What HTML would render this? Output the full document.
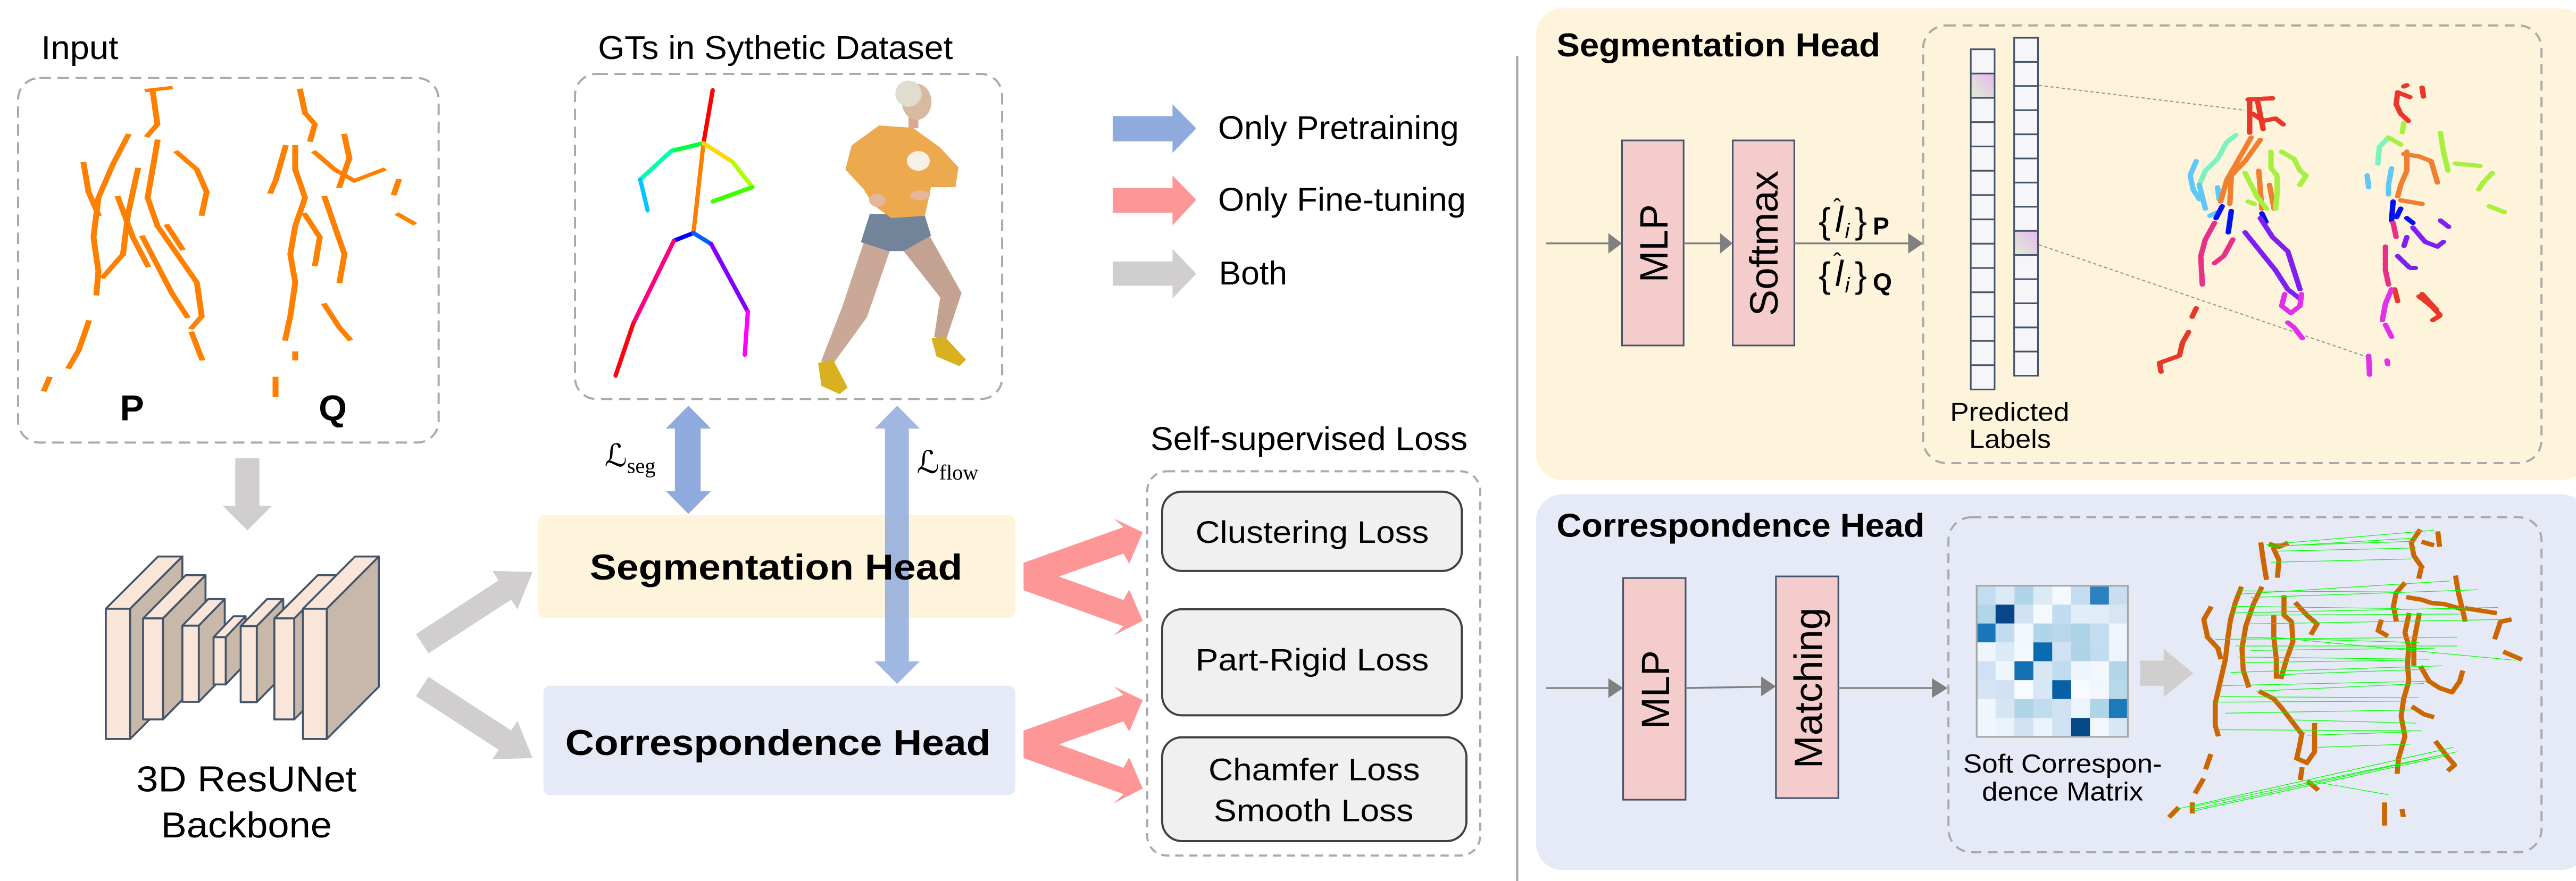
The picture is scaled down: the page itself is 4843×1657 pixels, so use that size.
<!DOCTYPE html>
<html><head><meta charset="utf-8"><style>
html,body{margin:0;padding:0;background:#fff;}
svg{display:block;}
text{font-family:"Liberation Sans","DejaVu Sans",sans-serif;}
</style></head><body>
<svg width="4843" height="1657" viewBox="0 0 1568 536.5" preserveAspectRatio="none" xmlns="http://www.w3.org/2000/svg">
<rect x="0" y="0" width="1568" height="536.5" fill="#fff"/>

<!-- INPUT -->
<text x="25" y="36" font-size="20" textLength="47" lengthAdjust="spacingAndGlyphs">Input</text>
<rect x="11" y="47.5" width="256" height="222" rx="13" fill="none" stroke="#aaa" stroke-width="1.3" stroke-dasharray="7 4"/>
<g transform="scale(0.599,0.344)" fill="none" stroke="#ff8000" stroke-width="6" stroke-dasharray="6 2.5" stroke-linecap="square">
<polyline points="150,160 175,155"/><polyline points="155,160 160,220 150,240"/>
<polyline points="130,240 115,290 100,350 95,420 100,480 98,520"/>
<polyline points="85,290 90,340 100,380"/>
<polyline points="160,250 155,300 150,350 160,400 180,450 200,500 205,560 195,580"/>
<polyline points="180,270 200,300 210,340 205,380"/>
<polyline points="140,300 130,380 125,450 105,490"/>
<polyline points="90,570 80,620 70,650"/><polyline points="50,670 45,690"/>
<polyline points="195,590 205,635"/><polyline points="170,400 185,440"/>
<polyline points="120,350 135,420 150,470"/>
<polyline points="145,420 160,470 175,520 190,560"/>
<polyline points="305,160 310,200 320,220 315,250"/>
<polyline points="290,260 280,320 275,340"/>
<polyline points="300,260 300,300 310,350 300,400 295,450 300,500 295,560 290,600"/>
<polyline points="320,270 340,300 360,320 390,300"/>
<polyline points="350,240 355,280 345,330"/>
<polyline points="330,350 340,400 350,450 345,500"/>
<polyline points="310,380 325,420 320,470"/>
<polyline points="330,540 345,580 355,600"/>
<polyline points="405,320 400,345"/><polyline points="405,380 420,395"/>
<polyline points="280,670 280,700"/><polyline points="300,625 300,635"/>
</g>
<text x="73" y="256" font-family="Liberation Serif,serif" font-weight="bold" font-size="22">P</text>
<text x="194" y="256" font-family="Liberation Serif,serif" font-weight="bold" font-size="22">Q</text>

<!-- down arrow -->
<polygon points="143.2,279 157.9,279 157.9,308 165.6,308 150.6,323 135.5,308 143.2,308" fill="#d0cece"/>

<!-- backbone blocks -->
<g stroke="#44546a" stroke-width="1.2" stroke-linejoin="round">
<g><polygon points="64.4,370.7 96.2,338.9 111,338.9 79.2,370.7" fill="#fae6d9"/><polygon points="79.2,370.7 111,338.9 111,418.2 79.2,450" fill="#c8b8aa"/><rect x="64.4" y="370.7" width="14.8" height="79.3" fill="#fae6d9"/></g>
<g><polygon points="87.1,376.6 113,350.3 125.1,350.3 99.2,376.6" fill="#fae6d9"/><polygon points="99.2,376.6 125.1,350.3 125.1,411.8 99.2,438.1" fill="#c8b8aa"/><rect x="87.1" y="376.6" width="12.1" height="61.5" fill="#fae6d9"/></g>
<g><polygon points="111,381 126.8,364.8 136.8,364.8 121,381" fill="#fae6d9"/><polygon points="121,381 136.8,364.8 136.8,411.2 121,427.4" fill="#c8b8aa"/><rect x="111" y="381" width="10" height="46.4" fill="#fae6d9"/></g>
<g><polygon points="130,388 142.1,375.3 149.5,375.3 137.4,388" fill="#fae6d9"/><polygon points="137.4,388 149.5,375.3 149.5,404.1 137.4,416.8" fill="#c8b8aa"/><rect x="130" y="388" width="7.4" height="28.8" fill="#fae6d9"/></g>
<g><polygon points="146.5,381.3 162.6,364.8 172.4,364.8 156.3,381.3" fill="#fae6d9"/><polygon points="156.3,381.3 172.4,364.8 172.4,411.1 156.3,427.6" fill="#c8b8aa"/><rect x="146.5" y="381.3" width="9.8" height="46.3" fill="#fae6d9"/></g>
<g><polygon points="167,376.6 193.4,350.3 205.5,350.3 179.1,376.6" fill="#fae6d9"/><polygon points="179.1,376.6 205.5,350.3 205.5,411.8 179.1,438.1" fill="#c8b8aa"/><rect x="167" y="376.6" width="12.1" height="61.5" fill="#fae6d9"/></g>
<g><polygon points="184.4,370.7 216.1,338.9 230.6,338.9 198.9,370.7" fill="#fae6d9"/><polygon points="198.9,370.7 230.6,338.9 230.6,418.2 198.9,450" fill="#c8b8aa"/><rect x="184.4" y="370.7" width="14.5" height="79.3" fill="#fae6d9"/></g>
</g>
<text x="83" y="482" font-size="22" textLength="134" lengthAdjust="spacingAndGlyphs">3D ResUNet</text>
<text x="98" y="510" font-size="22" textLength="104" lengthAdjust="spacingAndGlyphs">Backbone</text>

<!-- gray diagonal arrows -->
<g fill="#d0cece">
<g transform="translate(257,392) rotate(-33)"><polygon points="0,-7 60,-7 60,-14 80,0 60,14 60,7 0,7"/></g>
<g transform="translate(257,418) rotate(33)"><polygon points="0,-7 60,-7 60,-14 80,0 60,14 60,7 0,7"/></g>
</g>

<!-- GT box -->
<text x="364" y="36" font-size="20" textLength="216" lengthAdjust="spacingAndGlyphs">GTs in Sythetic Dataset</text>
<rect x="350" y="45" width="260" height="198" rx="13" fill="none" stroke="#aaa" stroke-width="1.3" stroke-dasharray="7 4"/>
<g fill="none" stroke-width="2.6" stroke-linecap="round">
<line x1="433.8" y1="55" x2="428.2" y2="87.2" stroke="#ff0000"/>
<line x1="428.2" y1="87.2" x2="422.1" y2="141.9" stroke="#ff7f00"/>
<line x1="428.2" y1="87.2" x2="408.7" y2="91.9" stroke="#00ff40"/>
<line x1="408.7" y1="91.9" x2="389.7" y2="109.3" stroke="#00ffb0"/>
<line x1="389.7" y1="109.3" x2="394.2" y2="128.1" stroke="#00c8ff"/>
<line x1="428.2" y1="87.2" x2="445.9" y2="98.6" stroke="#ffd800"/>
<line x1="445.9" y1="98.6" x2="458" y2="114" stroke="#b0ff00"/>
<line x1="458" y1="114" x2="433.8" y2="122.7" stroke="#40ff00"/>
<line x1="422.1" y1="141.9" x2="410.2" y2="146.6" stroke="#0000ff"/>
<line x1="422.1" y1="141.9" x2="432.9" y2="148.6" stroke="#0060ff"/>
<line x1="410.2" y1="146.6" x2="385.4" y2="197.2" stroke="#ff0080"/>
<line x1="385.4" y1="197.2" x2="374.7" y2="228.7" stroke="#ff0010"/>
<line x1="432.9" y1="148.6" x2="455.2" y2="189.8" stroke="#8000ff"/>
<line x1="455.2" y1="189.8" x2="453.3" y2="216" stroke="#ff00ff"/>
</g>
<!-- person -->
<polygon points="525.8,147.5 541.6,152.9 527.7,193.2 507.2,221.4 499.8,220 512.8,186.5" fill="#c9a898"/>
<polygon points="550,152.9 565.8,143.5 585.3,178.4 576,206.6 568.6,205.2 572.3,181.1" fill="#c4a292"/>
<polygon points="529.5,130.1 563,131.4 566.7,143.5 550,152.9 540.7,152.9 524,147.5" fill="#71849a"/>
<polygon points="535.1,76.4 555.6,77.8 572.3,89.9 583.4,101.9 581.6,114 566.7,114 563,131.4 542.5,132.8 531.4,124.7 525.8,115.3 514.6,103.3 518.4,88.5" fill="#eca94e"/>
<ellipse cx="559" cy="98" rx="7" ry="6" fill="#f6f0e6"/>
<ellipse cx="534" cy="122" rx="5" ry="4" fill="#e5b59c"/>
<ellipse cx="560" cy="119" rx="6" ry="3" fill="#e5b59c"/>
<rect x="553" y="68" width="6" height="10" fill="#d8a890"/>
<ellipse cx="558" cy="62" rx="9" ry="11" fill="#d9b9a0"/>
<ellipse cx="553" cy="57" rx="8" ry="8" fill="#e0dccf"/>
<polygon points="498,221 507,219 516,236 511,240 500,235" fill="#d8b020"/>
<polygon points="567,206 575,205 588,219 584,223 570,217" fill="#d8b020"/>

<!-- legend -->
<polygon points="677.3,70.7 713.7,70.7 713.7,63.5 728.2,78.2 713.7,93.1 713.7,86.1 677.3,86.1" fill="#8faadc"/>
<polygon points="677.3,114.6 713.7,114.6 713.7,106.8 728.2,121.7 713.7,137.3 713.7,129.5 677.3,129.5" fill="#fd9797"/>
<polygon points="677.3,159.2 713.7,159.2 713.7,151.6 728.2,166.7 713.7,181.8 713.7,174 677.3,174" fill="#d0cece"/>
<text x="741.4" y="84.7" font-size="20" textLength="146.6" lengthAdjust="spacingAndGlyphs">Only Pretraining</text>
<text x="741.4" y="128.4" font-size="20" textLength="150.9" lengthAdjust="spacingAndGlyphs">Only Fine-tuning</text>
<text x="741.9" y="173.2" font-size="20" textLength="41.6" lengthAdjust="spacingAndGlyphs">Both</text>

<!-- heads boxes -->
<rect x="327.6" y="313.4" width="290.4" height="62.8" rx="4" fill="#fef4dc"/>
<rect x="330.8" y="417.6" width="287.2" height="66.5" rx="4" fill="#e5eaf6"/>
<g transform="translate(323.7,239.6) scale(0.3923,0.1858)">
<polygon points="243,40 278,115 262,115 262,320 278,320 243,395 208,320 222,320 222,115 208,115" fill="#8faadc"/>
<polygon points="567,40 602,115 585,115 585,878 602,878 567,952 532,878 548,878 548,115 532,115" fill="#8faadc" fill-opacity="0.85"/>
<polygon points="763,555 918,438 903,410 948,455 927,558 918,525 818,600 918,677 927,643 948,745 903,793 918,763 763,645" fill="#fd9797"/>
<polygon points="763,1105 918,988 903,960 948,1005 927,1108 918,1075 818,1150 918,1227 927,1193 948,1295 903,1343 918,1313 763,1195" fill="#fd9797"/>
</g>
<text x="359" y="352.9" font-size="22" font-weight="bold" textLength="226.8" lengthAdjust="spacingAndGlyphs">Segmentation Head</text>
<text x="344.1" y="459.8" font-size="22" font-weight="bold" textLength="258.9" lengthAdjust="spacingAndGlyphs">Correspondence Head</text>
<text x="368" y="284" font-family="DejaVu Serif,serif" font-style="italic" font-size="19">ℒ<tspan font-family="Liberation Serif,serif" font-style="normal" font-size="13" dy="4">seg</tspan></text>
<text x="558" y="288" font-family="DejaVu Serif,serif" font-style="italic" font-size="19">ℒ<tspan font-family="Liberation Serif,serif" font-style="normal" font-size="13" dy="4">flow</tspan></text>

<!-- losses -->
<text x="700.3" y="274" font-size="20" textLength="193" lengthAdjust="spacingAndGlyphs">Self-supervised Loss</text>
<rect x="698.3" y="287" width="202.7" height="234" rx="12" fill="none" stroke="#aaa" stroke-width="1.3" stroke-dasharray="5 3.5"/>
<rect x="707.4" y="299.4" width="182.4" height="48.3" rx="12" fill="#f0f0f0" stroke="#404040" stroke-width="1.3"/>
<rect x="707.4" y="371" width="182.4" height="64.6" rx="12" fill="#f0f0f0" stroke="#404040" stroke-width="1.3"/>
<rect x="707.4" y="449" width="185.2" height="63.2" rx="12" fill="#f0f0f0" stroke="#404040" stroke-width="1.3"/>
<text x="727.7" y="330.6" font-size="19" textLength="142" lengthAdjust="spacingAndGlyphs">Clustering Loss</text>
<text x="727.7" y="408.3" font-size="19" textLength="142" lengthAdjust="spacingAndGlyphs">Part-Rigid Loss</text>
<text x="735.6" y="475.2" font-size="19" textLength="128.7" lengthAdjust="spacingAndGlyphs">Chamfer Loss</text>
<text x="738.8" y="500.1" font-size="19" textLength="121.6" lengthAdjust="spacingAndGlyphs">Smooth Loss</text>

<!-- divider -->
<line x1="923.5" y1="34" x2="923.5" y2="537" stroke="#aaa" stroke-width="1.4"/>

<!-- RIGHT: seg panel -->
<rect x="935" y="5" width="640" height="287.4" rx="16" fill="#fef4dc"/>
<text x="947.5" y="34.4" font-size="20" font-weight="bold" textLength="197" lengthAdjust="spacingAndGlyphs">Segmentation Head</text>
<rect x="987.3" y="85.5" width="37.5" height="124.9" fill="#f4cccc" stroke="#44546a" stroke-width="1"/>
<rect x="1054.7" y="85.5" width="37.5" height="124.9" fill="#f4cccc" stroke="#44546a" stroke-width="1"/>
<text transform="translate(1015,172) rotate(-90)" font-size="24" textLength="47.6" lengthAdjust="spacingAndGlyphs">MLP</text>
<text transform="translate(1082,192.5) rotate(-90)" font-size="24" textLength="88.6" lengthAdjust="spacingAndGlyphs">Softmax</text>
<g stroke="#808080" stroke-width="1.1" fill="#808080">
<line x1="941.2" y1="148.2" x2="980" y2="148.2"/><polygon points="979,142 987.3,148.2 979,154.4" stroke="none"/>
<line x1="1024.8" y1="148.2" x2="1048" y2="148.2"/><polygon points="1047,142 1054.7,148.2 1047,154.4" stroke="none"/>
<line x1="1092.2" y1="148.2" x2="1163" y2="148.2"/><polygon points="1161.5,142 1170.6,148.2 1161.5,154.4" stroke="none"/>
</g>
<g font-family="Liberation Serif,serif">
<text x="1107" y="142" font-size="22">{</text>
<text x="1117" y="141" font-size="22" font-style="italic">l</text>
<text x="1116" y="131" font-size="14">ˆ</text>
<text x="1123" y="145" font-size="13" font-style="italic">i</text>
<text x="1129" y="142" font-size="22">}</text>
<text x="1140" y="143" font-size="15" font-weight="bold">P</text>
<text x="1107" y="175" font-size="22">{</text>
<text x="1117" y="174" font-size="22" font-style="italic">l</text>
<text x="1116" y="164" font-size="14">ˆ</text>
<text x="1123" y="178" font-size="13" font-style="italic">i</text>
<text x="1129" y="175" font-size="22">}</text>
<text x="1140" y="177" font-size="15" font-weight="bold">Q</text>
</g>
<rect x="1170.6" y="15.5" width="376.4" height="266.5" rx="14" fill="none" stroke="#aaa" stroke-width="1.3" stroke-dasharray="6 4"/>
<defs>
<linearGradient id="hl" x1="0" y1="1" x2="1" y2="0"><stop offset="0" stop-color="#dfeecf"/><stop offset="1" stop-color="#e8b8f0"/></linearGradient>
</defs>
<g stroke="#44546a" stroke-width="1" fill="#f6f6fa">
<rect x="1199.6" y="30" width="14.5" height="14.8"/><rect x="1199.6" y="44.8" width="14.5" height="14.8" fill="url(#hl)"/>
<rect x="1199.6" y="59.6" width="14.5" height="14.8"/><rect x="1199.6" y="74.4" width="14.5" height="14.8"/>
<rect x="1199.6" y="89.2" width="14.5" height="14.8"/><rect x="1199.6" y="104" width="14.5" height="14.8"/>
<rect x="1199.6" y="118.8" width="14.5" height="14.8"/><rect x="1199.6" y="133.6" width="14.5" height="14.8"/>
<rect x="1199.6" y="148.4" width="14.5" height="14.8"/><rect x="1199.6" y="163.2" width="14.5" height="14.8"/>
<rect x="1199.6" y="178" width="14.5" height="14.8"/><rect x="1199.6" y="192.8" width="14.5" height="14.8"/>
<rect x="1199.6" y="207.6" width="14.5" height="14.8"/><rect x="1199.6" y="222.4" width="14.5" height="14.8"/>
<rect x="1226" y="23" width="14.5" height="14.7"/><rect x="1226" y="37.7" width="14.5" height="14.7"/>
<rect x="1226" y="52.4" width="14.5" height="14.7"/><rect x="1226" y="67.1" width="14.5" height="14.7"/>
<rect x="1226" y="81.8" width="14.5" height="14.7"/><rect x="1226" y="96.5" width="14.5" height="14.7"/>
<rect x="1226" y="111.2" width="14.5" height="14.7"/><rect x="1226" y="125.9" width="14.5" height="14.7"/>
<rect x="1226" y="140.6" width="14.5" height="14.7" fill="url(#hl)"/><rect x="1226" y="155.3" width="14.5" height="14.7"/>
<rect x="1226" y="170" width="14.5" height="14.7"/><rect x="1226" y="184.7" width="14.5" height="14.7"/>
<rect x="1226" y="199.4" width="14.5" height="14.7"/><rect x="1226" y="214.1" width="14.5" height="14.7"/>
</g>
<text x="1187" y="256.3" font-size="16" textLength="72.6" lengthAdjust="spacingAndGlyphs">Predicted</text>
<text x="1198.6" y="272.8" font-size="16" textLength="49.8" lengthAdjust="spacingAndGlyphs">Labels</text>
<line x1="1241" y1="52" x2="1366.5" y2="67.1" stroke="#999" stroke-width="0.7" stroke-dasharray="2 1.5"/>
<line x1="1241" y1="149" x2="1440.9" y2="217.4" stroke="#999" stroke-width="0.7" stroke-dasharray="2 1.5"/>
<!-- colored point clouds -->
<g transform="translate(1262.5,25.9) scale(0.1858,0.1445)" fill="none" stroke-width="18" stroke-linecap="round" stroke-linejoin="round" stroke-dasharray="16 6">
<g stroke="#e8382a"><polyline points="575,240 575,380"/><polyline points="600,240 620,370"/><polyline points="570,240 650,235"/><polyline points="585,300 620,330 660,320 685,345"/><polyline points="400,1120 385,1160"/><polyline points="375,1220 355,1265 345,1320 280,1350 285,1390"/>
<polyline points="1060,210 1055,260 1070,300 1095,330"/><polyline points="1060,210 1100,230"/><polyline points="1140,190 1145,230"/><polyline points="1080,185 1090,180"/><polyline points="1130,1070 1170,1110 1200,1150 1175,1170"/><polyline points="1140,1060 1190,1130"/><polyline points="1050,1040 1060,1090"/></g>
<g stroke="#7ff0c0"><polyline points="530,390 500,420 470,490 430,540 410,600"/><polyline points="1030,400 1000,440 995,510"/></g>
<g stroke="#60c8f8"><polyline points="410,600 430,700"/><polyline points="400,500 380,560 390,620 410,660"/><polyline points="470,610 475,660"/><polyline points="445,730 480,710"/><polyline points="960,560 965,610"/><polyline points="1040,530 1030,600 1030,640"/></g>
<g stroke="#f08030"><polyline points="580,400 540,490 500,580 480,670"/><polyline points="610,410 560,500 515,560 510,680"/><polyline points="605,540 615,700"/><polyline points="640,600 655,700"/><polyline points="1090,460 1090,540 1070,600 1060,650"/><polyline points="1080,470 1130,480 1170,500 1190,590"/><polyline points="1070,665 1140,680"/></g>
<g stroke="#a8f040"><polyline points="645,460 645,530 665,560 665,640 660,700"/><polyline points="680,460 720,490 740,540 760,560 740,600"/><polyline points="560,550 580,600 600,650 630,700"/><polyline points="570,670 590,680"/><polyline points="1080,340 1075,380"/><polyline points="1030,400 1070,430"/><polyline points="1200,380 1210,460 1225,540"/><polyline points="1250,510 1330,520"/><polyline points="1370,550 1340,590 1325,620"/><polyline points="1360,690 1410,715"/></g>
<g stroke="#0010f0"><polyline points="485,690 465,740"/><polyline points="515,710 505,800"/><polyline points="1045,670 1040,750"/><polyline points="1070,700 1055,740"/><polyline points="1090,740 1110,760"/><polyline points="615,720 630,760"/></g>
<g stroke="#e83088"><polyline points="460,760 430,830 415,900 420,1020"/><polyline points="520,830 490,900 460,930"/><polyline points="1045,760 1055,820"/><polyline points="1020,860 1020,960 1030,1020"/></g>
<g stroke="#8020f0"><polyline points="560,800 610,880 660,960 700,1040 740,1080"/><polyline points="610,740 650,820 700,880 720,960 740,1040"/><polyline points="1110,780 1150,840 1190,860 1210,840"/><polyline points="1090,820 1080,860"/><polyline points="1060,900 1100,950 1120,950"/><polyline points="1200,750 1230,780"/></g>
<g stroke="#e030e8"><polyline points="690,1060 680,1110 710,1140 740,1110 745,1060"/><polyline points="700,1180 720,1200 750,1250"/><polyline points="965,1320 968,1400"/><polyline points="1025,1340 1028,1360"/><polyline points="1040,1040 1020,1100 1010,1170"/><polyline points="1020,1190 1040,1240"/></g>
</g>

<!-- RIGHT: corr panel -->
<rect x="935" y="301" width="640" height="228.8" rx="16" fill="#e5eaf6"/>
<text x="947.5" y="326.8" font-size="20" font-weight="bold" textLength="224" lengthAdjust="spacingAndGlyphs">Correspondence Head</text>
<rect x="988" y="352" width="38" height="135" fill="#f4cccc" stroke="#44546a" stroke-width="1"/>
<rect x="1081" y="351" width="38" height="135" fill="#f4cccc" stroke="#44546a" stroke-width="1"/>
<text transform="translate(1016,444) rotate(-90)" font-size="24" textLength="48" lengthAdjust="spacingAndGlyphs">MLP</text>
<text transform="translate(1109,468) rotate(-90)" font-size="24" textLength="98" lengthAdjust="spacingAndGlyphs">Matching</text>
<g stroke="#808080" stroke-width="1.1" fill="#808080">
<line x1="941.2" y1="419" x2="980" y2="419"/><polygon points="979,413 988,419 979,425" stroke="none"/>
<line x1="1026" y1="419" x2="1073" y2="418.2"/><polygon points="1072,412 1081,418 1072,424" stroke="none"/>
<line x1="1119" y1="419" x2="1177" y2="419"/><polygon points="1176,413 1185.5,419 1176,425" stroke="none"/>
</g>
<rect x="1186" y="315" width="361" height="204" rx="14" fill="none" stroke="#aaa" stroke-width="1.3" stroke-dasharray="6 4"/>
<g transform="translate(1203.2,356.7) scale(11.5)">
<rect x="0" y="0" width="1" height="1" fill="#c4dcef"/><rect x="1" y="0" width="1" height="1" fill="#dceaf6"/><rect x="2" y="0" width="1" height="1" fill="#b0d4e8"/><rect x="3" y="0" width="1" height="1" fill="#dceaf6"/><rect x="4" y="0" width="1" height="1" fill="#f4f9fe"/><rect x="5" y="0" width="1" height="1" fill="#c4dcef"/><rect x="6" y="0" width="1" height="1" fill="#2b80c0"/><rect x="7" y="0" width="1" height="1" fill="#c8def0"/>
<rect x="0" y="1" width="1" height="1" fill="#b3d5e8"/><rect x="1" y="1" width="1" height="1" fill="#08468a"/><rect x="2" y="1" width="1" height="1" fill="#d0e2f2"/><rect x="3" y="1" width="1" height="1" fill="#f4f9fe"/><rect x="4" y="1" width="1" height="1" fill="#c0dcee"/><rect x="5" y="1" width="1" height="1" fill="#e0eef8"/><rect x="6" y="1" width="1" height="1" fill="#e0ecf8"/><rect x="7" y="1" width="1" height="1" fill="#d8e6f4"/>
<rect x="0" y="2" width="1" height="1" fill="#1a76ba"/><rect x="1" y="2" width="1" height="1" fill="#c0dcee"/><rect x="2" y="2" width="1" height="1" fill="#f2f8fe"/><rect x="3" y="2" width="1" height="1" fill="#b0d4e8"/><rect x="4" y="2" width="1" height="1" fill="#b8d8ea"/><rect x="5" y="2" width="1" height="1" fill="#acd4e6"/><rect x="6" y="2" width="1" height="1" fill="#c4dcef"/><rect x="7" y="2" width="1" height="1" fill="#f0f6fe"/>
<rect x="0" y="3" width="1" height="1" fill="#eef5fd"/><rect x="1" y="3" width="1" height="1" fill="#dceaf6"/><rect x="2" y="3" width="1" height="1" fill="#f4f9fe"/><rect x="3" y="3" width="1" height="1" fill="#0a6cb0"/><rect x="4" y="3" width="1" height="1" fill="#cfe1f2"/><rect x="5" y="3" width="1" height="1" fill="#acd4e6"/><rect x="6" y="3" width="1" height="1" fill="#c0dcee"/><rect x="7" y="3" width="1" height="1" fill="#ecf4fc"/>
<rect x="0" y="4" width="1" height="1" fill="#cfe1f2"/><rect x="1" y="4" width="1" height="1" fill="#eef5fd"/><rect x="2" y="4" width="1" height="1" fill="#1570b4"/><rect x="3" y="4" width="1" height="1" fill="#d8e7f5"/><rect x="4" y="4" width="1" height="1" fill="#c0dcee"/><rect x="5" y="4" width="1" height="1" fill="#eef5fd"/><rect x="6" y="4" width="1" height="1" fill="#f2f7fe"/><rect x="7" y="4" width="1" height="1" fill="#b3d5e8"/>
<rect x="0" y="5" width="1" height="1" fill="#d4e4f3"/><rect x="1" y="5" width="1" height="1" fill="#cfe1f2"/><rect x="2" y="5" width="1" height="1" fill="#f7fbff"/><rect x="3" y="5" width="1" height="1" fill="#d8e7f5"/><rect x="4" y="5" width="1" height="1" fill="#0660a6"/><rect x="5" y="5" width="1" height="1" fill="#f7fbff"/><rect x="6" y="5" width="1" height="1" fill="#f2f7fe"/><rect x="7" y="5" width="1" height="1" fill="#b8d8ea"/>
<rect x="0" y="6" width="1" height="1" fill="#f0f6fe"/><rect x="1" y="6" width="1" height="1" fill="#d4e6f4"/><rect x="2" y="6" width="1" height="1" fill="#b0d4e8"/><rect x="3" y="6" width="1" height="1" fill="#c0dcee"/><rect x="4" y="6" width="1" height="1" fill="#d0e2f2"/><rect x="5" y="6" width="1" height="1" fill="#ecf4fc"/><rect x="6" y="6" width="1" height="1" fill="#b0d4e8"/><rect x="7" y="6" width="1" height="1" fill="#1c7abb"/>
<rect x="0" y="7" width="1" height="1" fill="#f0f6fe"/><rect x="1" y="7" width="1" height="1" fill="#eaf3fc"/><rect x="2" y="7" width="1" height="1" fill="#d0e2f2"/><rect x="3" y="7" width="1" height="1" fill="#eaf3fc"/><rect x="4" y="7" width="1" height="1" fill="#cfe1f2"/><rect x="5" y="7" width="1" height="1" fill="#044a88"/><rect x="6" y="7" width="1" height="1" fill="#f2f7fe"/><rect x="7" y="7" width="1" height="1" fill="#d8e7f5"/>
<rect x="0" y="0" width="8" height="8" fill="none" stroke="#a6a6a6" stroke-width="0.09"/>
</g>
<text x="1195" y="470.5" font-size="16" textLength="121" lengthAdjust="spacingAndGlyphs">Soft Correspon-</text>
<text x="1206.4" y="487.5" font-size="16" textLength="98.2" lengthAdjust="spacingAndGlyphs">dence Matrix</text>
<polygon points="1302.7,402.3 1317,402.3 1317,395 1335,410 1317,424.6 1317,417.6 1302.7,417.6" fill="#d0cece"/>
<g transform="translate(1311.2,307.5) scale(0.155,0.1342)">
<g fill="none" stroke="#cc6600" stroke-width="20" stroke-linecap="square" stroke-linejoin="round" stroke-dasharray="16 7">
<polyline points="420,180 430,260 440,330"/><polyline points="460,180 490,190 520,175"/><polyline points="470,200 490,250 485,320"/>
<polyline points="340,380 320,440 300,520 290,600 280,700 260,800 240,900 240,1000 250,1040"/>
<polyline points="220,470 195,520 210,600 250,650 260,690"/>
<polyline points="420,380 390,450 360,550 345,650 350,750 370,820"/>
<polyline points="510,420 510,500 540,530 545,620 520,700 500,780"/>
<polyline points="470,510 470,600 480,700 480,780"/>
<polyline points="560,450 600,500 640,540 620,580"/>
<polyline points="420,850 470,880 500,920 540,980 580,1040 570,1100 560,1150 600,1170 630,1120 630,1000"/>
<polyline points="220,1140 205,1190"/><polyline points="190,1250 165,1300"/><polyline points="90,1380 65,1410"/><polyline points="150,1360 150,1390"/>
<polyline points="580,1200 575,1240"/><polyline points="610,1260 640,1290"/>
<polyline points="1040,120 1010,170 1020,230 1050,280 1040,330"/>
<polyline points="1060,170 1090,180"/><polyline points="1115,130 1120,180"/>
<polyline points="980,360 950,400 940,460 950,520"/>
<polyline points="1000,420 1050,430 1090,445 1140,450 1200,470"/>
<polyline points="1185,330 1195,400 1210,470 1220,520"/><polyline points="1230,470 1340,490"/>
<polyline points="1000,500 985,580 1000,640 995,720 1000,800 980,880 970,960 985,1050 960,1150 955,1210"/>
<polyline points="1040,500 1020,620 1020,720"/>
<polyline points="1050,740 1080,800 1120,830 1170,850 1200,800 1210,760"/>
<polyline points="1020,920 1060,950 1090,960"/>
<polyline points="1340,600 1360,530 1400,520"/><polyline points="1380,670 1440,700"/>
<polyline points="890,530 880,570 910,590"/>
<polyline points="1110,1080 1150,1140 1180,1180 1160,1200"/>
<polyline points="905,1360 905,1450"/><polyline points="975,1390 978,1410"/>
</g>
<g stroke="#00ff00" stroke-width="3" vector-effect="non-scaling-stroke">
<line x1="440" y1="180" x2="1100" y2="115"/><line x1="450" y1="190" x2="1030" y2="150"/><line x1="490" y1="185" x2="1020" y2="165"/><line x1="470" y1="210" x2="1030" y2="195"/><line x1="460" y1="260" x2="1010" y2="245"/>
<line x1="330" y1="390" x2="980" y2="395"/><line x1="330" y1="405" x2="1160" y2="345"/><line x1="380" y1="420" x2="1270" y2="385"/><line x1="310" y1="460" x2="960" y2="470"/><line x1="300" y1="490" x2="1350" y2="465"/><line x1="360" y1="500" x2="1200" y2="495"/><line x1="370" y1="540" x2="1360" y2="520"/><line x1="240" y1="610" x2="1190" y2="600"/><line x1="350" y1="600" x2="1040" y2="625"/><line x1="460" y1="600" x2="1420" y2="705"/><line x1="320" y1="640" x2="1190" y2="640"/><line x1="380" y1="660" x2="1100" y2="650"/><line x1="330" y1="690" x2="1080" y2="700"/><line x1="360" y1="715" x2="990" y2="705"/><line x1="300" y1="760" x2="1130" y2="730"/><line x1="490" y1="770" x2="1080" y2="745"/><line x1="260" y1="820" x2="1070" y2="800"/><line x1="400" y1="845" x2="1060" y2="810"/><line x1="260" y1="870" x2="1040" y2="875"/><line x1="240" y1="895" x2="1000" y2="890"/><line x1="280" y1="945" x2="1020" y2="930"/><line x1="530" y1="975" x2="1030" y2="990"/><line x1="250" y1="1020" x2="1050" y2="1025"/><line x1="600" y1="1045" x2="1000" y2="1030"/><line x1="640" y1="1100" x2="1010" y2="1085"/>
<line x1="90" y1="1380" x2="1175" y2="1100"/><line x1="150" y1="1370" x2="1190" y2="1120"/><line x1="160" y1="1380" x2="1150" y2="1130"/><line x1="150" y1="1390" x2="1140" y2="1140"/><line x1="600" y1="1250" x2="920" y2="1315"/>
</g>
</g>
</svg>
</body></html>
